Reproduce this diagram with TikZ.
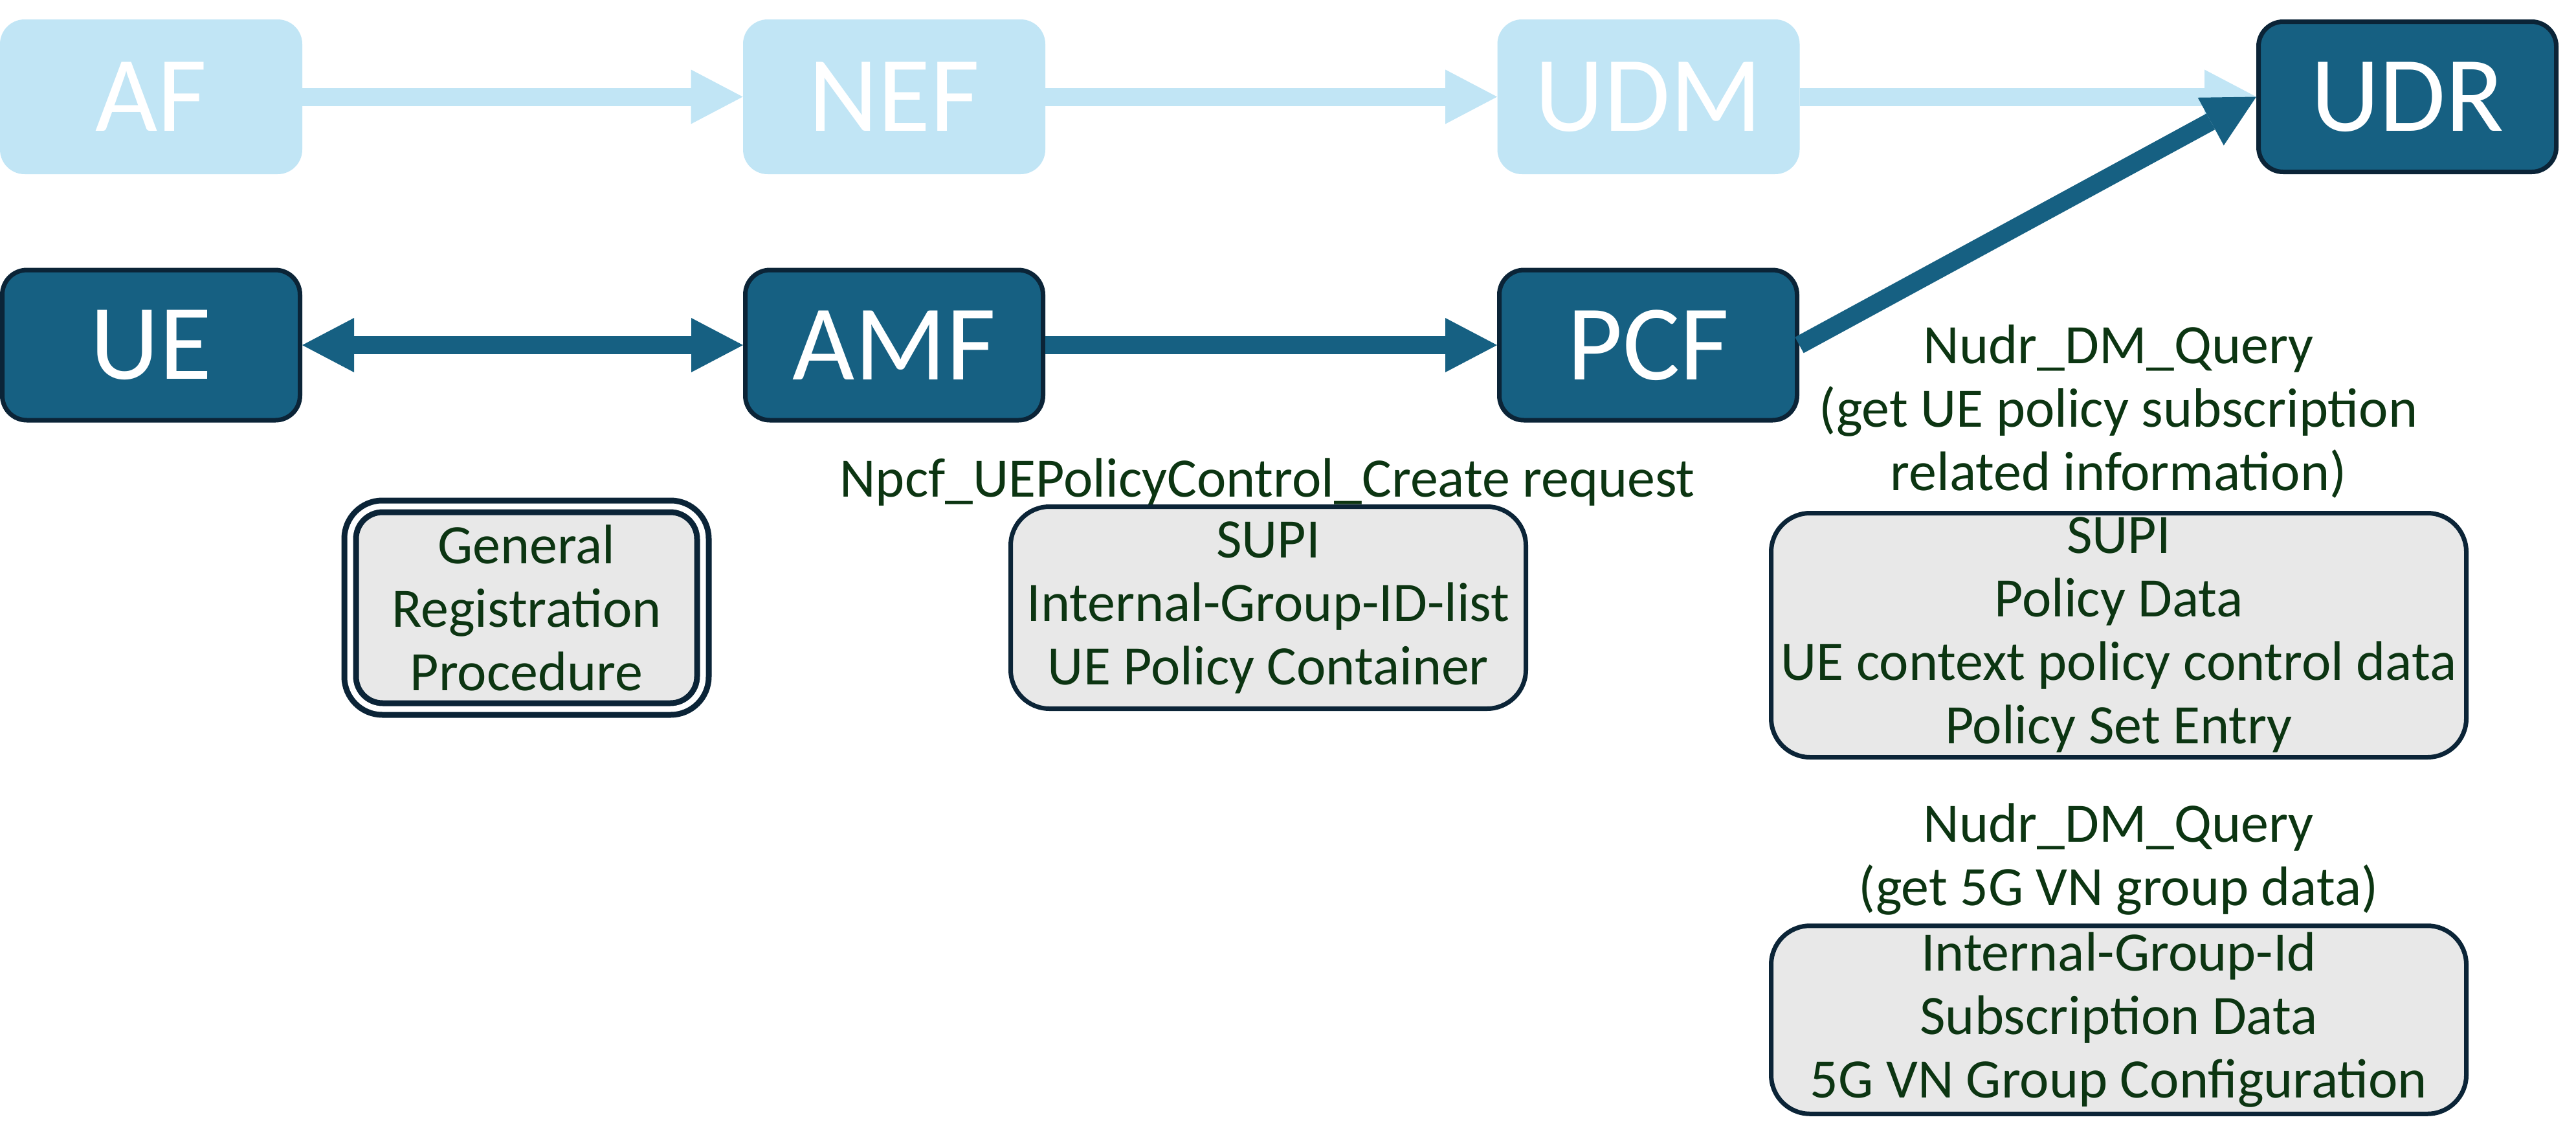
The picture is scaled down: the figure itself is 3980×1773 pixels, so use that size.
\documentclass[tikz,border=0pt]{standalone}
\usepackage{fontspec}
\setmainfont{Carlito}
\usetikzlibrary{arrows.meta}
\definecolor{lightb}{HTML}{C1E5F5}
\definecolor{darkb}{HTML}{166082}
\definecolor{bord}{HTML}{0B2437}
\definecolor{tgreen}{HTML}{0C3512}
\definecolor{boxgray}{HTML}{E8E8E8}
\begin{document}
\begin{tikzpicture}[x=0.5pt,y=-0.5pt,
  nf/.style={rounded corners=19pt, minimum width=233.5pt, minimum height=119.5pt, inner sep=0pt, text=white, font=\fontsize{83}{90}\selectfont},
  lightnf/.style={nf, fill=lightb},
  darknf/.style={nf, fill=darkb, draw=bord, line width=3.5pt, minimum width=230pt, minimum height=116pt},
  infobox/.style={fill=boxgray, draw=bord, line width=3.5pt, rounded corners=30pt, inner sep=0pt, text=tgreen, align=center, font=\fontsize{43}{49}\selectfont},
  lbl/.style={text=tgreen, align=center, inner sep=0pt, font=\fontsize{43}{49}\selectfont},
  flow/.style={line width=14pt, -{Triangle[length=40pt,width=42pt,line width=0pt]}},
  dflow/.style={line width=14pt, {Triangle[length=40pt,width=42pt,line width=0pt]}-{Triangle[length=40pt,width=42pt,line width=0pt]}},
]
\useasboundingbox (0,0) rectangle (3980,1773);

% network function boxes
\node[lightnf] (af) at (233.5,149.5) {AF};
\node[lightnf] (nef) at (1381.5,149.5) {NEF};
\node[lightnf] (udm) at (2547,149.5) {UDM};
\node[darknf] (udr) at (3719.5,149.5) {UDR};
\node[darknf] (ue) at (233.5,533) {UE};
\node[darknf] (amf) at (1381.5,533) {AMF};
\node[darknf] (pcf) at (2546.5,533) {PCF};

% connectors
\draw[flow, lightb] (af.east) -- (nef.west);
\draw[flow, lightb] (nef.east) -- (udm.west);
\draw[flow, lightb] (udm.east) -- (udr.west);
\draw[dflow, darkb] (ue.east) -- (amf.west);
\draw[flow, darkb] (amf.east) -- (pcf.west);
\draw[flow, darkb] (pcf.east) -- (udr.west);

% labels
\node[lbl, anchor=base] (npcf) at (1958,767) {Npcf\_UEPolicyControl\_Create request};
\node[lbl] (q1) at (3273,640) {\strut Nudr\_DM\_Query\\\strut (get UE policy subscription\\\strut related information)};
\node[lbl] (q2) at (3273,1330) {\strut Nudr\_DM\_Query\\\strut (get 5G VN group data)};

% info boxes
\node[infobox, draw=bord, double=white, double distance=4.5pt, line width=4.5pt, rounded corners=25pt,
      minimum width=272.5pt, minimum height=156.5pt] (grp) at (813.5,938.5) {General\\Registration\\Procedure};
\node[infobox, minimum width=398pt, minimum height=156pt] (ctx) at (1959.5,938.5) {SUPI\\Internal-Group-ID-list\\UE Policy Container};
\node[infobox, minimum width=537pt, minimum height=188.5pt] (pol) at (3273.5,981) {SUPI\\Policy Data\\UE context policy control data\\Policy Set Entry};
\node[infobox, minimum width=537pt, minimum height=145.25pt] (vn) at (3273.5,1575) {Internal-Group-Id\\Subscription Data\\5G VN Group Configuration};
\end{tikzpicture}
\end{document}
